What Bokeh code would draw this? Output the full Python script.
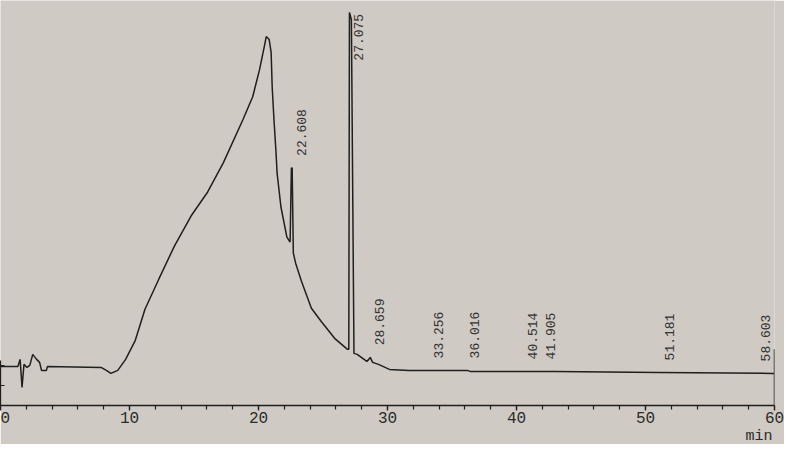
import math
from bokeh.plotting import figure
from bokeh.models import ColumnDataSource, FixedTicker, Range1d, Title
from bokeh.core.properties import value
from bokeh.embed import file_html
from bokeh.resources import INLINE

# ---- data (time in min, detector signal in arbitrary units) ----
time_min = [0.0, 1.35, 1.52, 1.67, 1.82, 2.05, 2.27, 2.50, 2.80, 3.03, 3.18, 3.56, 3.64,
            7.80, 8.20, 8.56, 9.09, 9.70, 10.45, 11.20, 12.27, 13.48, 14.77, 16.06, 17.27,
            18.79, 19.55, 20.08, 20.45, 20.60, 20.83, 20.98, 21.06, 21.20, 21.36, 21.44,
            21.74, 22.20, 22.45, 22.55, 22.61, 22.70, 22.88, 23.33, 24.10, 24.85, 25.90,
            26.90, 27.00, 27.05, 27.20, 27.40, 27.65, 28.40, 28.55, 28.66, 28.85, 29.30,
            30.15, 31.67, 36.20, 36.40, 43.00, 51.00, 59.80, 60.0, 60.0, 60.0]
signal = [39, 39, 46, 18, 41, 38, 40, 51, 46, 43, 35, 35, 39,
          38, 35, 32, 35, 46, 65, 96, 126, 159, 189, 213, 242,
          285, 308, 335, 358, 368, 365, 352, 318, 285, 252, 232,
          198, 168, 163, 237, 237, 152, 142, 124, 97, 84, 67,
          56, 56, 392, 385, 52, 51, 44, 46, 48, 43, 41,
          36, 35, 35, 34, 34, 33, 32, 32, 56, 0]

peak_times = [22.608, 27.075, 28.659, 33.256, 36.016, 40.514, 41.905, 51.181, 58.603]
peak_labels = ["22.608", "27.075", "28.659", "33.256", "36.016", "40.514", "41.905", "51.181", "58.603"]
peak_heights = [237, 392, 48, 35, 35, 34, 34, 33, 32]

x_major_ticks = [0, 10, 20, 30, 40, 50, 60]
x_minor_ticks = [t for t in range(0, 61, 2)]
y_ticks = [0, 20, 40]
x_unit = "min"

Y_TOP = 404
BG = "#cfcbc4"
INK = "#1f1f1f"
MONO = "Liberation Mono"

label_y = [min(h + 12, Y_TOP - 60) for h in peak_heights]

p = figure(width=784, height=444, output_backend="svg", toolbar_location=None,
           x_range=Range1d(0, 60), y_range=Range1d(0, Y_TOP),
           background_fill_color=BG, border_fill_color=BG,
           min_border_left=0, min_border_right=10, min_border_top=0, min_border_bottom=0)
p.outline_line_color = None
p.grid.visible = False

# x axis
xa = p.xaxis[0]
xa.ticker = FixedTicker(ticks=x_major_ticks, minor_ticks=x_minor_ticks)
xa.axis_line_color = INK
xa.axis_line_width = 1.5
xa.major_tick_line_color = INK
xa.minor_tick_line_color = INK
xa.major_tick_line_width = 1.3
xa.minor_tick_line_width = 1.2
xa.major_tick_in = 0
xa.major_tick_out = 5
xa.minor_tick_in = 0
xa.minor_tick_out = 4
xa.major_label_standoff = 1
xa.major_label_text_font = MONO
xa.major_label_text_font_size = "16px"
xa.major_label_text_color = "#2a2a2a"

# y axis: only the short visible part near the bottom, no labels
ya = p.yaxis[0]
ya.ticker = FixedTicker(ticks=y_ticks)
ya.bounds = (0, 45)
ya.axis_line_color = INK
ya.axis_line_width = 1.3
ya.major_tick_line_color = INK
ya.major_tick_in = 4
ya.major_tick_out = 0
ya.minor_tick_line_color = None
ya.major_label_overrides = {t: "" for t in y_ticks}
ya.major_label_standoff = 0

p.add_layout(Title(text=x_unit, align="right", text_font=MONO, text_font_size="15px",
                   text_font_style="normal", text_color="#2a2a2a", standoff=0, offset=2), "below")

src = ColumnDataSource(dict(t=time_min, s=signal))
p.line("t", "s", source=src, line_color=INK, line_width=1.5)

lab = ColumnDataSource(dict(t=peak_times, y=label_y, txt=peak_labels))
p.text("t", "y", text="txt", source=lab, angle=math.pi / 2, x_offset=9,
       text_align="left", text_baseline="middle", text_font=value(MONO),
       text_font_size="13px", text_color="#333333")

open("out.html", "w").write(file_html(p, INLINE))
